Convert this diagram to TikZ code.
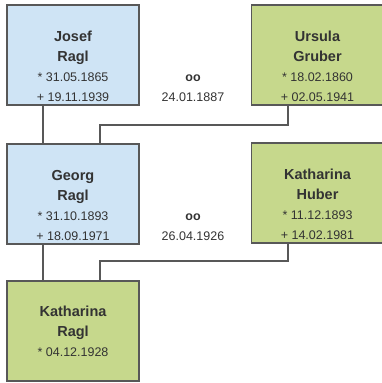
\documentclass[tikz,border=0pt]{standalone}
\usepackage{fontspec}
\setmainfont{Liberation Sans}
\usetikzlibrary{positioning,calc}

\definecolor{boxblue}{RGB}{207,228,245}
\definecolor{boxgreen}{RGB}{198,216,140}
\definecolor{edgegrey}{RGB}{88,88,88}

\newcommand{\pname}[1]{{\fontsize{14.5}{20}\selectfont\bfseries #1}}

\begin{document}
\begin{tikzpicture}[x=1pt, y=-1pt,
  person/.style={draw=edgegrey, line width=1.6pt, minimum width=132pt,
    minimum height=100pt, inner sep=0pt},
  man/.style={person, fill=boxblue},
  woman/.style={person, fill=boxgreen},
  info/.style={align=center, inner sep=0pt, text=black!80,
    font=\fontsize{12.5}{20}\selectfont},
  link/.style={draw=edgegrey, line width=1.5pt}]

  \useasboundingbox (0,0) rectangle (381,383);

  % Generation 1
  \node[man] (josef) at (73,55) {};
  \node[info, below=27pt of josef.north] (josef text)
    {\pname{Josef}\\\pname{Ragl}\\* 31.05.1865\\+ 19.11.1939};
  \node[woman] (ursula) at (317.5,55) {};
  \node[info, below=27pt of ursula.north] (ursula text)
    {\pname{Ursula}\\\pname{Gruber}\\* 18.02.1860\\+ 02.05.1941};
  \node[info] (wed1) at (193,88) {\textbf{oo}\\24.01.1887};

  % Generation 2
  \node[man] (georg) at (73,194) {};
  \node[info, below=27pt of georg.north] (georg text)
    {\pname{Georg}\\\pname{Ragl}\\* 31.10.1893\\+ 18.09.1971};
  \node[woman] (huber) at (317.5,193) {};
  \node[info, below=27pt of huber.north] (huber text)
    {\pname{Katharina}\\\pname{Huber}\\* 11.12.1893\\+ 14.02.1981};
  \node[info] (wed2) at (193,227) {\textbf{oo}\\26.04.1926};

  % Generation 3
  \node[woman] (kathi) at (73,331) {};
  \node[info, below=26pt of kathi.north] (kathi text)
    {\pname{Katharina}\\\pname{Ragl}\\* 04.12.1928};

  % Descent lines
  \draw[link] ([xshift=-30pt]josef.south) -- ([xshift=-30pt]georg.north);
  \draw[link] ([xshift=-29.5pt]ursula.south) |- ([shift={(27pt,18pt)}]georg.north)
    -- ([xshift=27pt]georg.north);
  \draw[link] ([xshift=-30pt]georg.south) -- ([xshift=-30pt]kathi.north);
  \draw[link] ([xshift=-29.5pt]huber.south) |- ([shift={(27pt,19pt)}]kathi.north)
    -- ([xshift=27pt]kathi.north);
\end{tikzpicture}
\end{document}
